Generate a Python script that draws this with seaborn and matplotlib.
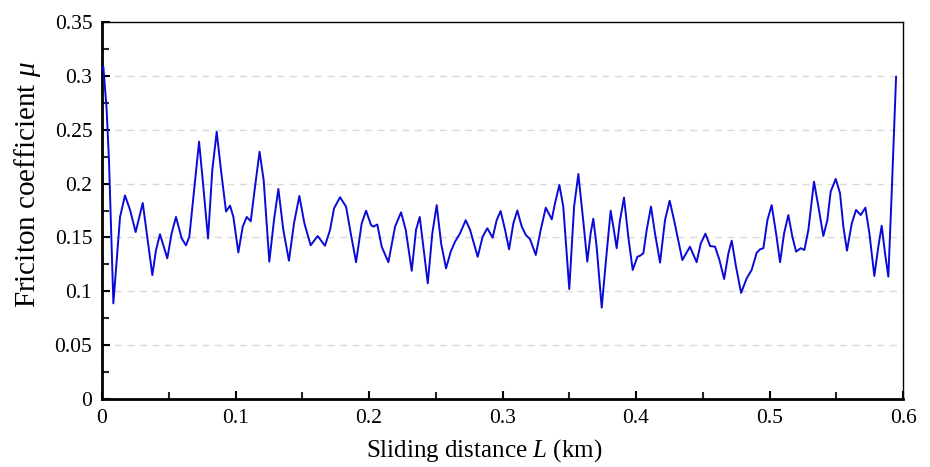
import matplotlib
matplotlib.use("Agg")
import matplotlib.pyplot as plt
import seaborn as sns
import pandas as pd
from matplotlib.ticker import MultipleLocator

# Values (points along the trace)
distance_km = [
    0.0000, 0.0010, 0.0035, 0.0052, 0.0067, 0.0085, 0.0110, 0.0135, 0.0172, 0.0210,
    0.0252, 0.0305, 0.0335, 0.0377, 0.0404, 0.0434, 0.0489, 0.0522, 0.0554, 0.0597,
    0.0629, 0.0654, 0.0692, 0.0727, 0.0759, 0.0794, 0.0826, 0.0859, 0.0891, 0.0929,
    0.0959, 0.0984, 0.1021, 0.1054, 0.1084, 0.1114, 0.1146, 0.1180, 0.1211, 0.1253,
    0.1288, 0.1321, 0.1358, 0.1400, 0.1438, 0.1478, 0.1516, 0.1563, 0.1615, 0.1670,
    0.1708, 0.1738, 0.1783, 0.1828, 0.1863, 0.1903, 0.1945, 0.1978, 0.2015, 0.2033,
    0.2062, 0.2095, 0.2145, 0.2195, 0.2240, 0.2275, 0.2320, 0.2352, 0.2380, 0.2407,
    0.2440, 0.2474, 0.2507, 0.2540, 0.2577, 0.2612, 0.2644, 0.2682, 0.2724, 0.2757,
    0.2814, 0.2851, 0.2886, 0.2926, 0.2956, 0.2986, 0.3019, 0.3049, 0.3081, 0.3111,
    0.3144, 0.3176, 0.3206, 0.3249, 0.3286, 0.3324, 0.3369, 0.3393, 0.3426, 0.3455,
    0.3500, 0.3536, 0.3568, 0.3605, 0.3635, 0.3660, 0.3680, 0.3705, 0.3743, 0.3775,
    0.3810, 0.3830, 0.3855, 0.3880, 0.3910, 0.3942, 0.3975, 0.4010, 0.4030, 0.4055,
    0.4080, 0.4112, 0.4142, 0.4180, 0.4217, 0.4252, 0.4285, 0.4347, 0.4404, 0.4454,
    0.4485, 0.4520, 0.4555, 0.4592, 0.4625, 0.4660, 0.4692, 0.4717, 0.4749, 0.4787,
    0.4829, 0.4866, 0.4904, 0.4929, 0.4954, 0.4984, 0.5016, 0.5049, 0.5079, 0.5109,
    0.5141, 0.5171, 0.5199, 0.5234, 0.5261, 0.5291, 0.5333, 0.5366, 0.5403, 0.5433,
    0.5458, 0.5496, 0.5528, 0.5553, 0.5580, 0.5616, 0.5648, 0.5683, 0.5718, 0.5748,
    0.5785, 0.5815, 0.5840, 0.5865, 0.5890, 0.5915, 0.5933, 0.5948]
friction_mu = [
    0.3060, 0.3085, 0.2680, 0.2220, 0.1600, 0.0888, 0.1290, 0.1690, 0.1890, 0.1755,
    0.1550, 0.1820, 0.1540, 0.1150, 0.1380, 0.1530, 0.1306, 0.1540, 0.1690, 0.1490,
    0.1427, 0.1507, 0.1970, 0.2389, 0.1970, 0.1490, 0.2126, 0.2480, 0.2126, 0.1740,
    0.1795, 0.1690, 0.1360, 0.1600, 0.1690, 0.1650, 0.1970, 0.2296, 0.2030, 0.1275,
    0.1660, 0.1950, 0.1570, 0.1284, 0.1630, 0.1885, 0.1630, 0.1427, 0.1513, 0.1423,
    0.1570, 0.1770, 0.1873, 0.1786, 0.1538, 0.1270, 0.1630, 0.1748, 0.1615, 0.1600,
    0.1620, 0.1414, 0.1270, 0.1600, 0.1733, 0.1570, 0.1190, 0.1570, 0.1690, 0.1414,
    0.1074, 0.1538, 0.1800, 0.1445, 0.1213, 0.1368, 0.1460, 0.1538, 0.1660, 0.1570,
    0.1320, 0.1507, 0.1585, 0.1498, 0.1660, 0.1745, 0.1570, 0.1390, 0.1630, 0.1750,
    0.1600, 0.1520, 0.1485, 0.1337, 0.1570, 0.1776, 0.1668, 0.1817, 0.1987, 0.1786,
    0.1021, 0.1786, 0.2089, 0.1650, 0.1275, 0.1538, 0.1674, 0.1414, 0.0848, 0.1290,
    0.1748, 0.1600, 0.1400, 0.1660, 0.1870, 0.1507, 0.1198, 0.1320, 0.1330, 0.1353,
    0.1570, 0.1786, 0.1538, 0.1266, 0.1660, 0.1841, 0.1660, 0.1290, 0.1414, 0.1270,
    0.1445, 0.1535, 0.1420, 0.1414, 0.1290, 0.1114, 0.1353, 0.1470, 0.1228, 0.0985,
    0.1120, 0.1198, 0.1358, 0.1390, 0.1400, 0.1660, 0.1800, 0.1538, 0.1270, 0.1538,
    0.1708, 0.1507, 0.1368, 0.1400, 0.1383, 0.1570, 0.2018, 0.1786, 0.1513, 0.1660,
    0.1925, 0.2043, 0.1910, 0.1600, 0.1377, 0.1630, 0.1755, 0.1708, 0.1776, 0.1538,
    0.1142, 0.1414, 0.1609, 0.1353, 0.1136, 0.1910, 0.2497, 0.2993]

x_ticks = [0, 0.1, 0.2, 0.3, 0.4, 0.5, 0.6]
x_tick_labels = ["0", "0.1", "0.2", "0.3", "0.4", "0.5", "0.6"]
y_ticks = [0, 0.05, 0.1, 0.15, 0.2, 0.25, 0.3, 0.35]
y_tick_labels = ["0", "0.05", "0.1", "0.15", "0.2", "0.25", "0.3", "0.35"]

sns.set_theme(style="white")
plt.rcParams["font.family"] = ["Liberation Serif", "DejaVu Serif"]
plt.rcParams["mathtext.fontset"] = "custom"
plt.rcParams["mathtext.rm"] = "Liberation Serif"
plt.rcParams["mathtext.it"] = "Liberation Serif:italic"

df = pd.DataFrame({"L": distance_km, "mu": friction_mu})

fig = plt.figure(figsize=(9.3, 4.67), dpi=100)
ax = fig.add_axes([0.1097, 0.1456, 0.8613, 0.8073])

# dashed horizontal grid
for yv in y_ticks[1:-1]:
    ax.axhline(yv, color="#d9d9d9", lw=1.0, ls=(0, (5, 4)), zorder=0)

sns.lineplot(data=df, x="L", y="mu", ax=ax, color="#0a0ad8", lw=1.4, sort=False, zorder=3)

ax.set_xlim(0, 0.6)
ax.set_ylim(0, 0.35)
ax.set_xticks(x_ticks)
ax.set_xticklabels(x_tick_labels)
ax.set_yticks(y_ticks)
ax.set_yticklabels(y_tick_labels)
ax.xaxis.set_minor_locator(MultipleLocator(0.05))
ax.yaxis.set_minor_locator(MultipleLocator(0.025))
ax.tick_params(axis="both", which="major", direction="in", length=6, width=1.5,
               labelsize=15.5, colors="black", pad=7,
               bottom=True, left=True, top=False, right=False)
ax.tick_params(axis="both", which="minor", direction="in", length=5, width=1.5,
               bottom=True, left=True, top=False, right=False)
for s in ["left", "bottom"]:
    ax.spines[s].set_linewidth(2.0)
    ax.spines[s].set_color("black")
for s in ["top", "right"]:
    ax.spines[s].set_linewidth(1.0)
    ax.spines[s].set_color("black")

ax.set_xlabel(r"Sliding distance $L$ (km)", fontsize=18, color="black")
ax.set_ylabel(r"Friciton coefficient $\mu$", fontsize=21, color="black")
ax.xaxis.label.set_va("center")
ax.xaxis.label.set_ha("center")
ax.yaxis.label.set_va("center")
ax.yaxis.label.set_ha("center")
ax.xaxis.set_label_coords(0.4775, -0.137)
ax.yaxis.set_label_coords(-0.0936, 0.5676)

fig.savefig("out.png", dpi=100)
